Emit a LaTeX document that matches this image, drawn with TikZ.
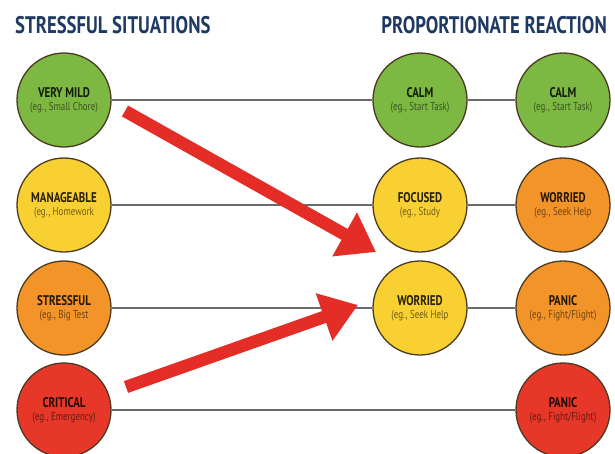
\documentclass[tikz,border=0pt]{standalone}
\usepackage{fontspec}
\setmainfont{PT Sans}
\newfontfamily\cond[FakeStretch=0.78]{PT Sans}
\usetikzlibrary{arrows.meta}
\definecolor{cgreen}{HTML}{7DB843}
\definecolor{cyellow}{HTML}{F8D032}
\definecolor{corange}{HTML}{F39428}
\definecolor{cred}{HTML}{E63728}
\definecolor{cborder}{HTML}{4A3A22}
\definecolor{navy}{HTML}{1F3A62}
\definecolor{arrowred}{HTML}{E52D27}
\definecolor{linegray}{HTML}{6A6A6A}
\tikzset{
  stage/.style={circle, draw=cborder, line width=1.3pt, minimum size=94pt, inner sep=0pt,
    fill=#1, align=center, text=#1!15!black, font=\cond\bfseries\fontsize{14}{16}\selectfont},
  link/.style={draw=linegray, line width=1.4pt},
  bigarrow/.style={draw=arrowred, line width=12.5pt, line cap=butt,
    -{Triangle[width=48pt,length=36pt]}},
  title/.style={text=navy, font=\cond\bfseries\fontsize{24}{26}\selectfont, inner sep=0pt}
}
\newcommand{\stg}[3]{#1\\[-3pt]{\mdseries\fontsize{11.5}{13}\selectfont\color{#3!45!black}#2}}
\begin{document}
\begin{tikzpicture}[x=1pt,y=-1pt]
\useasboundingbox (0,0) rectangle (615,453);
\fill[white] (0,0) rectangle (615,453);
\node[title, anchor=west] (t1) at (15,25) {STRESSFUL SITUATIONS};
\node[title, anchor=east] (t2) at (607,25) {PROPORTIONATE REACTION};

\node[stage=cgreen] (vm) at (64,100) {\stg{VERY MILD}{(eg., Small Chore)}{cgreen}};
\node[stage=cyellow] (mg) at (64,205) {\stg{MANAGEABLE}{(eg., Homework}{cyellow}};
\node[stage=corange] (st) at (64,308) {\stg{STRESSFUL}{(eg., Big Test}{corange}};
\node[stage=cred] (cr) at (64,410) {\stg{CRITICAL}{(eg., Emergency)}{cred}};

\node[stage=cgreen] (c1) at (420,100) {\stg{CALM}{(eg., Start Task)}{cgreen}};
\node[stage=cyellow] (fo) at (420,205) {\stg{FOCUSED}{(eg., Study}{cyellow}};
\node[stage=cyellow] (w1) at (420,308) {\stg{WORRIED}{(eg., Seek Help}{cyellow}};

\node[stage=cgreen] (c2) at (563,100) {\stg{CALM}{(eg., Start Task)}{cgreen}};
\node[stage=corange] (w2) at (563,205) {\stg{WORRIED}{(eg., Seek Help}{corange}};
\node[stage=corange] (p1) at (563,308) {\stg{PANIC}{(eg., Fight/Flight)}{corange}};
\node[stage=cred] (p2) at (563,410) {\stg{PANIC}{(eg., Fight/Flight)}{cred}};

\draw[link] (vm) -- (c1);
\draw[link] (c1) -- (c2);
\draw[link] (mg) -- (fo);
\draw[link] (fo) -- (w2);
\draw[link] (st) -- (w1);
\draw[link] (w1) -- (p1);
\draw[link] (cr) -- (p2);

\coordinate (a1s) at (125,111);
\coordinate (a1e) at (376,252);
\coordinate (a2s) at (126,387);
\coordinate (a2e) at (358,305);
\draw[bigarrow] (a1s) -- (a1e);
\draw[bigarrow] (a2s) -- (a2e);
\end{tikzpicture}
\end{document}
